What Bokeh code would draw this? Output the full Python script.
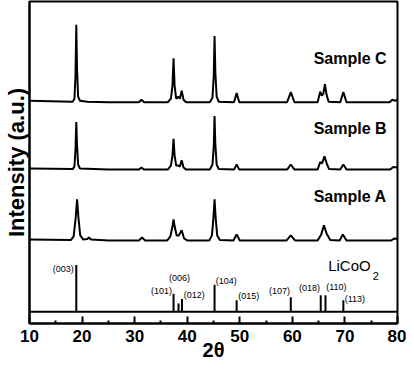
from bokeh.plotting import figure
from bokeh.models import Range1d, FixedTicker, Label, Span, ColumnDataSource, LinearAxis
from bokeh.core.properties import value
from bokeh.embed import file_html
from bokeh.resources import INLINE

# ---------------- data ----------------
x_ticks = [10, 20, 30, 40, 50, 60, 70, 80]
x_minor_ticks = [15, 25, 35, 45, 55, 65, 75]

sample_c_2theta = [10, 14, 18.2, 18.55, 18.75, 18.9, 19.05, 19.25, 19.6, 21, 25, 30.8, 31.3, 31.8,
                   36.3, 36.9, 37.2, 37.4, 37.6, 37.9, 38.3, 38.6, 38.95, 39.3, 39.8, 44.3, 44.8,
                   45.05, 45.2, 45.35, 45.6, 46, 48.9, 49.4, 49.9, 59.0, 59.7, 60.4, 64.8, 65.3,
                   65.6, 65.9, 66.2, 66.5, 66.9, 69.1, 69.7, 70.3, 78.5, 79, 79.5, 80]
sample_c_intensity = [220, 219.5, 219, 222, 245, 295, 250, 224, 220, 219, 218.5, 218.5, 221, 218.5,
                      218.5, 222, 235, 262, 235, 222, 224, 222, 230, 221, 218.5, 218.5, 223,
                      245, 284, 248, 224, 219, 218.5, 227.5, 218.5, 218.5, 228.5, 218.5, 218.5, 229,
                      225, 227, 236.5, 226, 219, 218.5, 228.5, 218.5, 218.5, 221, 220, 221]

sample_b_2theta = [10, 18.2, 18.55, 18.75, 18.9, 19.05, 19.25, 19.6, 25, 30.8, 31.3, 31.8,
                   36.3, 36.9, 37.2, 37.4, 37.6, 37.9, 38.3, 38.6, 38.95, 39.3, 39.8, 44.3, 44.8,
                   45.05, 45.2, 45.35, 45.6, 46, 48.9, 49.4, 49.9, 59.0, 59.7, 60.4, 64.8, 65.3,
                   65.65, 66.1, 66.6, 67, 69.1, 69.7, 70.3, 78.6, 79.2, 80]
sample_b_intensity = [153, 152.5, 155, 172, 199, 175, 157, 153, 152, 152, 154, 152,
                      152, 156, 166, 182.5, 166, 156, 156, 155, 161.3, 154, 152, 152, 157,
                      175, 205, 177, 157, 152.5, 152, 157, 152, 152, 157, 152, 152, 159.5,
                      158, 165, 157, 152.5, 152, 157, 152, 152, 154.5, 154]

sample_a_2theta = [10, 17.9, 18.4, 18.8, 19.05, 19.3, 19.65, 20.2, 21.0, 21.3, 21.7, 25, 30.8,
                   31.4, 32, 36.2, 36.8, 37.2, 37.4, 37.6, 38.0, 38.4, 38.95, 39.4, 40, 44.2,
                   44.7, 45.0, 45.2, 45.4, 45.7, 46.2, 48.8, 49.4, 50, 58.9, 59.7, 60.5, 64.8,
                   65.5, 66.0, 66.5, 67.2, 69.0, 69.6, 70.3, 78.8, 79.4, 80]
sample_a_intensity = [83, 82.5, 86, 105, 122.7, 105, 87, 83, 83.5, 85, 83, 82, 82,
                      85, 82, 82, 86, 96, 102.7, 96, 87, 87, 92, 84, 82, 82,
                      87, 105, 122.7, 105, 87, 82.5, 82, 88, 82, 82, 87, 82, 82,
                      88, 97, 89, 82.5, 82, 88, 82, 82, 84, 83.5]

ref_baseline = 11.5
ref_hkl = ["(003)", "(101)", "(006)", "(012)", "(104)", "(015)", "(107)", "(018)", "(110)", "(113)"]
ref_2theta = [18.9, 37.4, 38.35, 39.0, 45.2, 49.4, 59.7, 65.4, 66.3, 69.7]
ref_intensity = [57.7, 29.3, 19.7, 24.3, 38.3, 23, 26, 28, 28, 23]

sample_names = ["Sample C", "Sample B", "Sample A"]

# ---------------- layout / style ----------------
FONT = "Liberation Sans"
FRAME_W = 370
X0, X1 = 10, 80
PX = FRAME_W / (X1 - X0)  # pixels per degree

# label placement for hkl labels: (align, dx in px, dy in px)
hkl_layout = [("right", -2.5, -4), ("right", -1.5, 2.7), ("center", 1, 25.3), ("left", 1.7, 3.4),
              ("left", 1.3, 3.7), ("left", 1.7, 3.7), ("right", -0.7, 6), ("right", -0.7, 7),
              ("left", 0.7, 8.3), ("left", 1.4, 1.3)]
sample_label_y = [262, 192.5, 125]

p = figure(width=406, height=363, output_backend="svg", toolbar_location=None,
           x_range=Range1d(X0, X1), y_range=Range1d(0, 318),
           y_axis_location=None, min_border_left=25, min_border_right=9,
           min_border_top=1, min_border_bottom=40)
p.grid.visible = False
p.outline_line_color = "black"
p.outline_line_width = 2
p.background_fill_color = "white"
p.border_fill_color = "white"

ax = p.xaxis[0]
ax.ticker = FixedTicker(ticks=x_ticks, minor_ticks=x_minor_ticks)
ax.axis_line_width = 2
ax.major_tick_in = 7
ax.major_tick_out = 0
ax.minor_tick_in = 3
ax.minor_tick_out = 0
ax.major_tick_line_width = 2
ax.minor_tick_line_width = 2
ax.major_label_text_font = FONT
ax.major_label_text_font_size = "17px"
ax.major_label_text_font_style = "bold"
ax.major_label_text_color = "black"
ax.major_label_text_line_height = 0.8
ax.major_label_standoff = 6
ax.axis_label = "2θ"
ax.axis_label_text_font = FONT
ax.axis_label_text_font_size = "20px"
ax.axis_label_text_font_style = "bold"
ax.axis_label_text_color = "black"
ax.axis_label_text_line_height = 0.8
ax.axis_label_standoff = -6

yax = LinearAxis(ticker=FixedTicker(ticks=[]), axis_label="Intensity (a.u.)",
                 axis_label_text_font=FONT, axis_label_text_font_size="22px",
                 axis_label_text_font_style="bold", axis_label_text_color="black",
                 axis_label_text_line_height=0.9,
                 axis_label_standoff=1, major_label_standoff=0, major_tick_out=0,
                 major_tick_in=0, minor_tick_out=0, minor_tick_in=0, axis_line_width=2)
p.add_layout(yax, "left")

# patterns
for xs, ys in [(sample_c_2theta, sample_c_intensity), (sample_b_2theta, sample_b_intensity),
               (sample_a_2theta, sample_a_intensity)]:
    p.line(xs, ys, line_color="black", line_width=2)

# reference sticks
p.add_layout(Span(location=ref_baseline, dimension="width", line_color="black", line_width=2))
p.segment(x0=ref_2theta, y0=[ref_baseline] * len(ref_2theta), x1=ref_2theta, y1=ref_intensity,
          line_color="black", line_width=2)

for align in ["left", "right", "center"]:
    xs, ys, ts = [], [], []
    for name, x, y, (al, dx, dy) in zip(ref_hkl, ref_2theta, ref_intensity, hkl_layout):
        if al == align:
            xs.append(x + dx / PX)
            ys.append(y + dy)
            ts.append(name)
    src = ColumnDataSource(dict(x=xs, y=ys, t=ts))
    p.text(x="x", y="y", text="t", source=src, text_font=value(FONT), text_font_size="9px",
           text_align=align, text_baseline="middle", text_color="black")

# sample labels
for name, y in zip(sample_names, sample_label_y):
    p.add_layout(Label(x=X0 + (392 - 33) / PX, y=y, text=name, text_font=FONT,
                       text_font_size="16px", text_font_style="bold", text_align="right",
                       text_baseline="middle", text_color="black"))

# LiCoO2 label
p.add_layout(Label(x=X0 + (376 - 33) / PX, y=57.4, text="LiCoO", text_font=FONT,
                   text_font_size="15px", text_align="right", text_baseline="middle",
                   text_color="black"))
p.add_layout(Label(x=X0 + (378 - 33) / PX, y=47, text="2", text_font=FONT,
                   text_font_size="11px", text_align="left", text_baseline="middle",
                   text_color="black"))

open("out.html", "w").write(file_html(p, INLINE))
